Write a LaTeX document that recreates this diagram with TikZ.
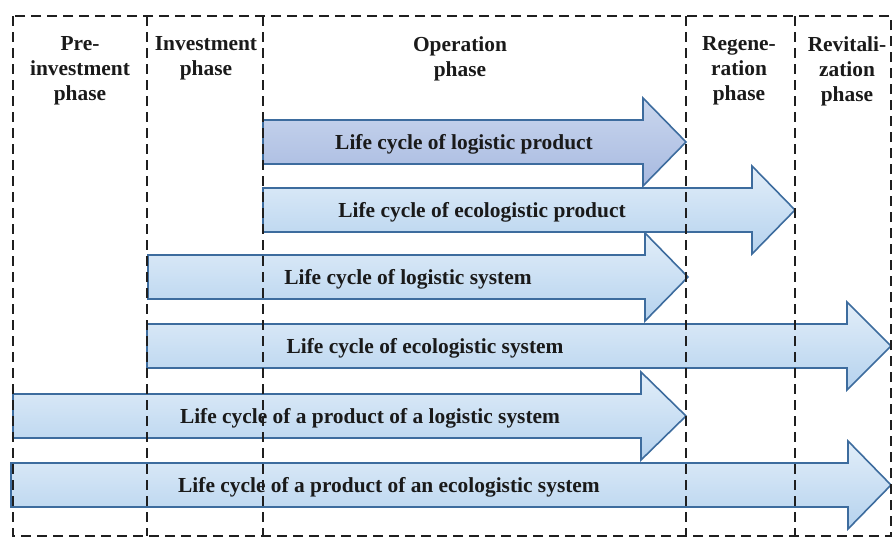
\documentclass[tikz,border=0pt]{standalone}
\usepackage{fontspec}
\setmainfont{Liberation Serif}
\definecolor{arrowline}{HTML}{3D6C9E}
\definecolor{darktop}{HTML}{CAD7EE}
\definecolor{darkbot}{HTML}{A7B9E0}
\definecolor{lighttop}{HTML}{E2EEF9}
\definecolor{lightbot}{HTML}{B5D2EE}
\definecolor{txt}{HTML}{1A1A1A}
\newcommand{\lifearrow}[5]{% x0, head x, tip x, center y, style
  \shadedraw[#5] (#1,#4-22) -- (#2,#4-22) -- (#2,#4-44) -- (#3,#4) -- (#2,#4+44) -- (#2,#4+22) -- (#1,#4+22) -- cycle;}
\begin{document}
\begin{tikzpicture}[x=1pt,y=-1pt,
  lightarrow/.style={draw=arrowline,line width=1.6pt,top color=lighttop,bottom color=lightbot,line join=miter},
  darkarrow/.style={draw=arrowline,line width=1.6pt,top color=darktop,bottom color=darkbot,line join=miter},
  phaseline/.style={draw=black!88,line width=2.5pt,dash pattern=on 10pt off 6pt},
  arrowlabel/.style={font=\bfseries\fontsize{21.4}{25}\selectfont,text=txt,inner sep=0pt},
  phaselabel/.style={font=\bfseries\fontsize{21.4}{25}\selectfont,text=txt,inner sep=0pt,align=center}]
\useasboundingbox (0,0) rectangle (892,538);
% arrows
\lifearrow{263}{643}{686}{142}{darkarrow}
\lifearrow{263}{752}{795}{210}{lightarrow}
\lifearrow{148}{645}{688}{277}{lightarrow}
\lifearrow{147}{847}{891}{346}{lightarrow}
\lifearrow{13}{641}{686}{416}{lightarrow}
\lifearrow{11}{848}{891}{485}{lightarrow}
% arrow labels
\node[arrowlabel] (a1) at (464,144) {Life cycle of logistic product};
\node[arrowlabel] (a2) at (482,212) {Life cycle of ecologistic product};
\node[arrowlabel] (a3) at (408,279) {Life cycle of logistic system};
\node[arrowlabel] (a4) at (425,348) {Life cycle of ecologistic system};
\node[arrowlabel] (a5) at (370,418) {Life cycle of a product of a logistic system};
\node[arrowlabel] (a6) at (389,487) {Life cycle of a product of an ecologistic system};
% phase labels
\node[phaselabel] (p1) at (80,71) {Pre-\\investment\\phase};
\node[phaselabel] (p2) at (206,58) {Investment\\phase};
\node[phaselabel] (p3) at (460,59) {Operation\\phase};
\node[phaselabel] (p4) at (739,71) {Regene-\\ration\\phase};
\node[phaselabel] (p5) at (847,71) {Revitali-\\zation\\phase};
% dashed frame and phase boundaries
\coordinate (tl) at (13,16);
\coordinate (br) at (891,536);
\draw[phaseline] (tl) rectangle (br);
\foreach \xx in {147,263,686,795}{
  \draw[phaseline] (\xx,16) -- (\xx,536);
}
\end{tikzpicture}
\end{document}
